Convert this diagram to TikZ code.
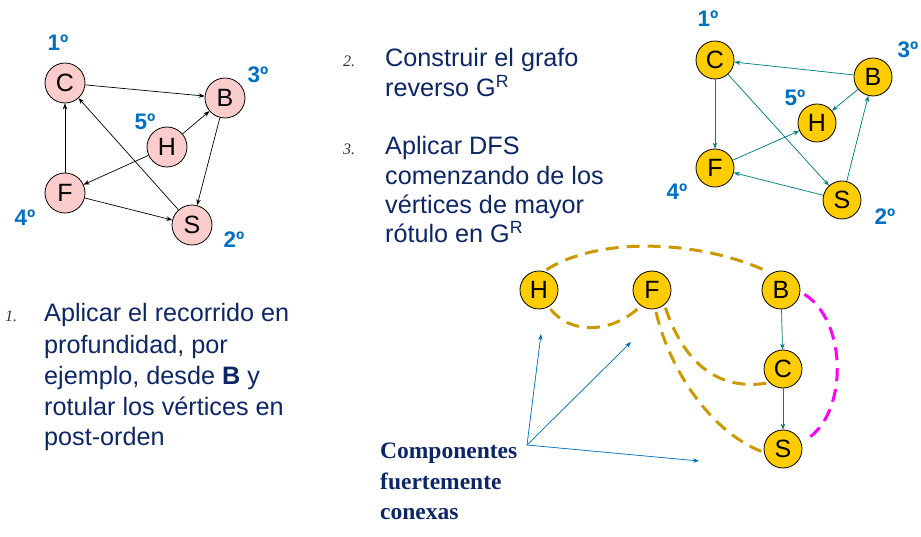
\documentclass[tikz,border=0pt]{standalone}
\usepackage{fontspec}
\setmainfont{Liberation Sans}
\newfontfamily\serifb{Liberation Serif}
\usetikzlibrary{arrows.meta}
\definecolor{navy}{RGB}{12,38,102}
\definecolor{lblue}{RGB}{0,112,192}
\definecolor{pinkf}{RGB}{250,204,204}
\definecolor{goldf}{RGB}{255,204,0}
\definecolor{teal2}{RGB}{0,128,128}
\definecolor{dgold}{RGB}{204,153,0}
\definecolor{mag}{RGB}{255,0,255}
\begin{document}
\begin{tikzpicture}[x=1pt,y=-1pt,
 vtx/.style={circle,draw=black,line width=0.8pt,minimum size=40pt,inner sep=0pt,font=\fontsize{25}{25}\selectfont},
 pinkv/.style={vtx,fill=pinkf},
 goldv/.style={vtx,fill=goldf,minimum size=38pt},
 ord/.style={text=lblue,font=\fontsize{22.5}{22.5}\selectfont\bfseries},
 barr/.style={-{Stealth[length=6pt,width=4.5pt]},line width=0.7pt},
 tarr/.style={barr,draw=teal2,fill=teal2},
 larr/.style={barr,draw=lblue,fill=lblue},
 gdash/.style={draw=dgold,line width=3pt,dash pattern=on 13pt off 8pt,shorten <=3pt,shorten >=3pt},
 mdash/.style={draw=mag,line width=3pt,dash pattern=on 13pt off 8pt,shorten <=5pt,shorten >=5pt},
 txt/.style={anchor=base west,inner sep=0pt,text=navy,font=\fontsize{25.2}{30}\selectfont},
 numl/.style={anchor=base west,inner sep=0pt,text=black!80,font=\fontsize{16}{16}\selectfont\serifb\itshape},
 cfc/.style={anchor=base west,inner sep=0pt,text=navy,font=\fontsize{23.5}{23.5}\selectfont\serifb\bfseries}
]
\useasboundingbox (0,0) rectangle (921,537);

% ---------- left graph ----------
\node[pinkv] (lC) at (65,83) {C};
\node[pinkv] (lB) at (225,98) {B};
\node[pinkv] (lH) at (167,147) {H};
\node[pinkv] (lF) at (65,193) {F};
\node[pinkv] (lS) at (192,225) {S};
\node[ord] (lo1) at (58,43) {1º};
\node[ord] (lo3) at (258,75) {3º};
\node[ord] (lo5) at (145,122) {5º};
\node[ord] (lo4) at (25,218) {4º};
\node[ord] (lo2) at (234,240) {2º};
\draw[barr] (lC) -- (lB);
\draw[barr] (lH) -- (lB);
\draw[barr] (lH) -- (lF);
\draw[barr] (lB) -- (lS);
\draw[barr] (lF) -- (lC);
\draw[barr] (lS) -- (lC);
\draw[barr] (lF) -- (lS);

% ---------- right top graph ----------
\node[goldv] (rC) at (715,60) {C};
\node[goldv] (rB) at (873,77) {B};
\node[goldv] (rH) at (817,123) {H};
\node[goldv] (rF) at (715,168) {F};
\node[goldv] (rS) at (842,200) {S};
\node[ord] (ro1) at (708,19) {1º};
\node[ord] (ro3) at (908,50) {3º};
\node[ord] (ro5) at (795,98) {5º};
\node[ord] (ro4) at (677,192) {4º};
\node[ord] (ro2) at (885,217) {2º};
\draw[tarr] (rB) -- (rC);
\draw[tarr] (rC) -- (rF);
\draw[tarr] (rC) -- (rS);
\draw[tarr] (rB) -- (rH);
\draw[tarr] (rF) -- (rH);
\draw[tarr] (rS) -- (rF);
\draw[tarr] (rS) -- (rB);

% ---------- texts ----------
\node[numl] (n2) at (343,67) {2.};
\node[txt] (t2a) at (385,67) {Construir el grafo};
\node[txt] (t2b) at (385,97) {reverso G\textsuperscript{R}};
\node[numl] (n3) at (343,155) {3.};
\node[txt] (t3a) at (385,155) {Aplicar DFS};
\node[txt] (t3b) at (385,185) {comenzando de los};
\node[txt] (t3c) at (385,214) {vértices de mayor};
\node[txt] (t3d) at (385,243) {rótulo en G\textsuperscript{R}};

\node[numl] (n1) at (5,322) {1.};
\node[txt] (t1a) at (44,322) {Aplicar el recorrido en};
\node[txt] (t1b) at (44,353) {profundidad, por};
\node[txt] (t1c) at (44,384) {ejemplo, desde \textbf{B} y};
\node[txt] (t1d) at (44,415) {rotular los vértices en};
\node[txt] (t1e) at (44,445) {post-orden};

% ---------- bottom graph ----------
\node[goldv] (bH) at (539,290) {H};
\node[goldv] (bF) at (652,290) {F};
\node[goldv] (bB) at (781,290) {B};
\node[goldv] (bC) at (783,369) {C};
\node[goldv] (bS) at (783,449) {S};
\draw[tarr] (bB) -- (bC);
\draw[tarr] (bC) -- (bS);

\draw[gdash] (bH.75) .. controls (600,236) and (700,240) .. (bB.120);
\draw[gdash] (bH.-60) .. controls (570,334) and (610,334) .. (bF.-125);
\draw[gdash] (bF.-50) .. controls (680,352) and (710,392) .. (bC.-135);
\draw[gdash] (bF.-80) .. controls (670,372) and (712,432) .. (bS.190);
\draw[mdash] (bB.-5) .. controls (848,322) and (848,415) .. (bS.20);

\coordinate (src) at (527,445);
\coordinate (e1) at (541,334);
\coordinate (e2) at (631,342);
\coordinate (e3) at (699,461);
\draw[larr] (src) -- (e1);
\draw[larr] (src) -- (e2);
\draw[larr] (src) -- (e3);

\node[cfc] (c1) at (380,458) {Componentes};
\node[cfc] (c2) at (380,489) {fuertemente};
\node[cfc] (c3) at (380,519) {conexas};
\end{tikzpicture}
\end{document}
